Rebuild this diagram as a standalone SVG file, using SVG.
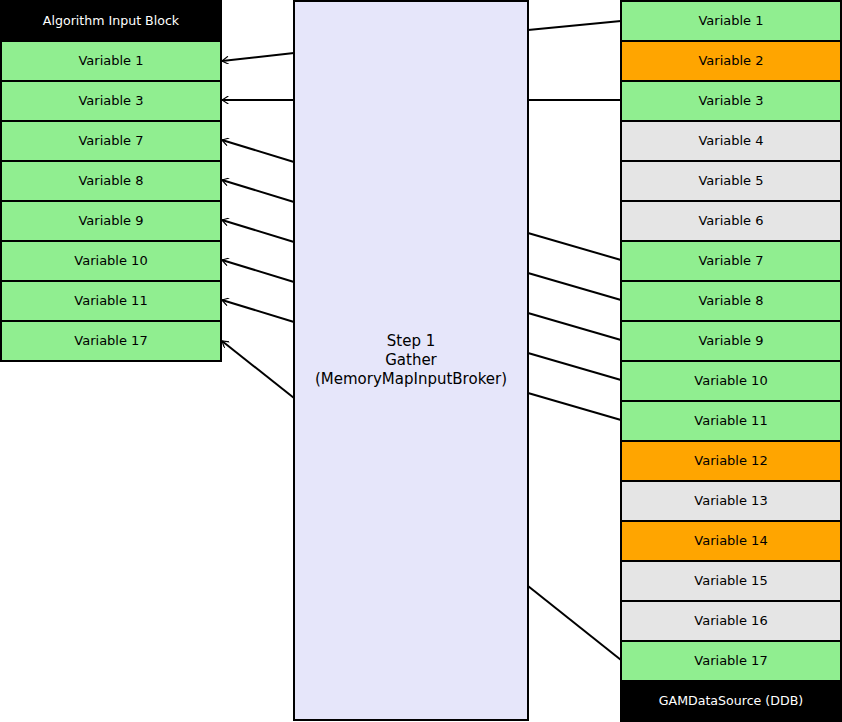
<svg xmlns="http://www.w3.org/2000/svg" width="842" height="722" viewBox="0 0 842 722">
<style>
text{font-family:"DejaVu Sans",sans-serif;font-size:13px;text-anchor:middle;dominant-baseline:central}
.g{fill:#90ee90;stroke:#000;stroke-width:2}
.o{fill:#ffa500;stroke:#000;stroke-width:2}
.e{fill:#e5e5e5;stroke:#000;stroke-width:2}
.h{fill:#000;stroke:#000;stroke-width:2}
.ht{fill:#fff;font-size:12.6px}
.m{font-size:15px}
.c{fill:none;stroke:#000;stroke-width:2}
</style>
<defs>
<marker id="a" viewBox="0 0 10 10" refX="9" refY="5" markerWidth="8" markerHeight="8" markerUnits="userSpaceOnUse" orient="auto">
<path d="M1,0 L9,5 L1,10" fill="none" stroke="#000" stroke-width="1.5"/>
</marker>
</defs>
<g id="step1"><rect x="294" y="1" width="234" height="719" fill="#e6e6fa" stroke="#000" stroke-width="2"/>
<text class="m" x="411" y="341">Step 1</text><text class="m" x="411" y="360">Gather</text><text class="m" x="411" y="379">(MemoryMapInputBroker)</text></g>
<g id="left">
<g id="in-header"><rect class="h" x="1" y="1" width="220" height="40"/><text class="ht" x="111" y="20">Algorithm Input Block</text></g>
<g id="in-v1"><rect class="g" x="1" y="41" width="220" height="40"/><text x="111" y="60">Variable 1</text></g>
<g id="in-v3"><rect class="g" x="1" y="81" width="220" height="40"/><text x="111" y="100">Variable 3</text></g>
<g id="in-v7"><rect class="g" x="1" y="121" width="220" height="40"/><text x="111" y="140">Variable 7</text></g>
<g id="in-v8"><rect class="g" x="1" y="161" width="220" height="40"/><text x="111" y="180">Variable 8</text></g>
<g id="in-v9"><rect class="g" x="1" y="201" width="220" height="40"/><text x="111" y="220">Variable 9</text></g>
<g id="in-v10"><rect class="g" x="1" y="241" width="220" height="40"/><text x="111" y="260">Variable 10</text></g>
<g id="in-v11"><rect class="g" x="1" y="281" width="220" height="40"/><text x="111" y="300">Variable 11</text></g>
<g id="in-v17"><rect class="g" x="1" y="321" width="220" height="40"/><text x="111" y="340">Variable 17</text></g>
</g>
<g id="right">
<g id="ds-v1"><rect class="g" x="621" y="1" width="220" height="40"/><text x="731" y="20">Variable 1</text></g>
<g id="ds-v2"><rect class="o" x="621" y="41" width="220" height="40"/><text x="731" y="60">Variable 2</text></g>
<g id="ds-v3"><rect class="g" x="621" y="81" width="220" height="40"/><text x="731" y="100">Variable 3</text></g>
<g id="ds-v4"><rect class="e" x="621" y="121" width="220" height="40"/><text x="731" y="140">Variable 4</text></g>
<g id="ds-v5"><rect class="e" x="621" y="161" width="220" height="40"/><text x="731" y="180">Variable 5</text></g>
<g id="ds-v6"><rect class="e" x="621" y="201" width="220" height="40"/><text x="731" y="220">Variable 6</text></g>
<g id="ds-v7"><rect class="g" x="621" y="241" width="220" height="40"/><text x="731" y="260">Variable 7</text></g>
<g id="ds-v8"><rect class="g" x="621" y="281" width="220" height="40"/><text x="731" y="300">Variable 8</text></g>
<g id="ds-v9"><rect class="g" x="621" y="321" width="220" height="40"/><text x="731" y="340">Variable 9</text></g>
<g id="ds-v10"><rect class="g" x="621" y="361" width="220" height="40"/><text x="731" y="380">Variable 10</text></g>
<g id="ds-v11"><rect class="g" x="621" y="401" width="220" height="40"/><text x="731" y="420">Variable 11</text></g>
<g id="ds-v12"><rect class="o" x="621" y="441" width="220" height="40"/><text x="731" y="460">Variable 12</text></g>
<g id="ds-v13"><rect class="e" x="621" y="481" width="220" height="40"/><text x="731" y="500">Variable 13</text></g>
<g id="ds-v14"><rect class="o" x="621" y="521" width="220" height="40"/><text x="731" y="540">Variable 14</text></g>
<g id="ds-v15"><rect class="e" x="621" y="561" width="220" height="40"/><text x="731" y="580">Variable 15</text></g>
<g id="ds-v16"><rect class="e" x="621" y="601" width="220" height="40"/><text x="731" y="620">Variable 16</text></g>
<g id="ds-v17"><rect class="g" x="621" y="641" width="220" height="40"/><text x="731" y="660">Variable 17</text></g>
<g id="ds-header"><rect class="h" x="621" y="681" width="220" height="40"/><text class="ht" x="731" y="700">GAMDataSource (DDB)</text></g>
</g>
<g id="connectors">
<path class="c" marker-end="url(#a)" d="M294,53 L222,61"/>
<path class="c" marker-end="url(#a)" d="M294,100 L222,100"/>
<path class="c" marker-end="url(#a)" d="M294,162 L222,140"/>
<path class="c" marker-end="url(#a)" d="M294,202 L222,180"/>
<path class="c" marker-end="url(#a)" d="M294,242 L222,220"/>
<path class="c" marker-end="url(#a)" d="M294,282 L222,260"/>
<path class="c" marker-end="url(#a)" d="M294,322 L222,300"/>
<path class="c" marker-end="url(#a)" d="M294,398 L222,341"/>
<path class="c" d="M528,30 L621,21"/>
<path class="c" d="M528,100 L621,100"/>
<path class="c" d="M528,233 L621,260"/>
<path class="c" d="M528,273 L621,300"/>
<path class="c" d="M528,313 L621,340"/>
<path class="c" d="M528,353 L621,380"/>
<path class="c" d="M528,393 L621,420"/>
<path class="c" d="M528,586 L621,660"/>
</g>
</svg>
